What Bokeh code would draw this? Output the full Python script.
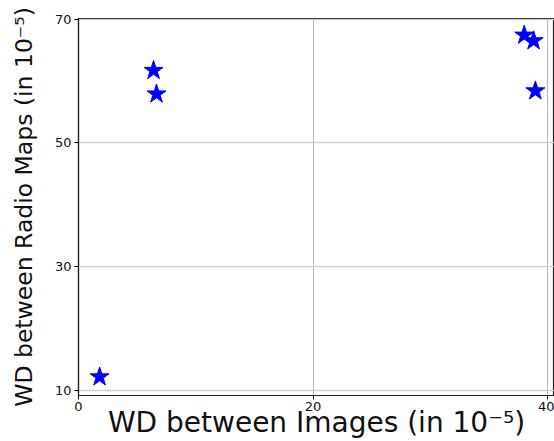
from bokeh.plotting import figure
from bokeh.models import Range1d, FixedTicker, ColumnDataSource
from bokeh.embed import file_html
from bokeh.resources import INLINE

# Wasserstein distances (in units of 1e-5)
wd_images = [1.8, 6.4, 6.65, 38.0, 38.8, 38.95]
wd_radio_maps = [12.2, 61.7, 57.9, 67.4, 66.5, 58.4]

x_ticks = [0, 20, 40]
y_ticks = [10, 30, 50, 70]

src = ColumnDataSource(data=dict(x=wd_images, y=wd_radio_maps))

p = figure(
    width=554, height=441,
    x_range=Range1d(0, 40.58), y_range=Range1d(9.2, 70.1),
    output_backend="svg", toolbar_location=None,
    min_border_left=78, min_border_right=0,
    min_border_top=18, min_border_bottom=45,
)
p.background_fill_color = "white"
p.border_fill_color = "white"
p.outline_line_color = "#222222"
p.outline_line_width = 1.2

p.scatter("x", "y", source=src, marker="star", size=20,
          fill_color="blue", line_color="blue")

for ax in (p.xaxis[0], p.yaxis[0]):
    ax.major_tick_in = 0
    ax.major_tick_out = 4
    ax.minor_tick_line_color = None
    ax.axis_line_color = "#222222"
    ax.axis_line_width = 1.2
    ax.major_label_text_font = "DejaVu Sans"
    ax.major_label_text_font_size = "13px"
    ax.major_label_text_color = "#111111"
    ax.axis_label_text_font = "DejaVu Sans"
    ax.axis_label_text_font_style = "normal"
    ax.axis_label_text_color = "#111111"

p.xaxis.ticker = FixedTicker(ticks=x_ticks)
p.yaxis.ticker = FixedTicker(ticks=y_ticks)
p.xaxis.axis_label = "WD between Images (in 10\u207b\u2075)"
p.yaxis.axis_label = "WD between Radio Maps (in 10\u207b\u2075)"
p.xaxis.axis_label_text_font_size = "28px"
p.yaxis.axis_label_text_font_size = "23.5px"
# keep the x title tight under the tick labels so the frame keeps its height
p.xaxis.axis_label_standoff = -8
p.yaxis.axis_label_standoff = 14
p.xaxis.major_label_standoff = 2
p.yaxis.major_label_standoff = 3

p.xgrid.ticker = FixedTicker(ticks=x_ticks)
p.ygrid.ticker = FixedTicker(ticks=y_ticks)
p.xgrid.grid_line_color = "#b8b8b8"
p.xgrid.grid_line_width = 1
p.ygrid.grid_line_color = "#d0d0d0"
p.ygrid.grid_line_width = 1.6

open("out.html", "w").write(file_html(p, INLINE))
